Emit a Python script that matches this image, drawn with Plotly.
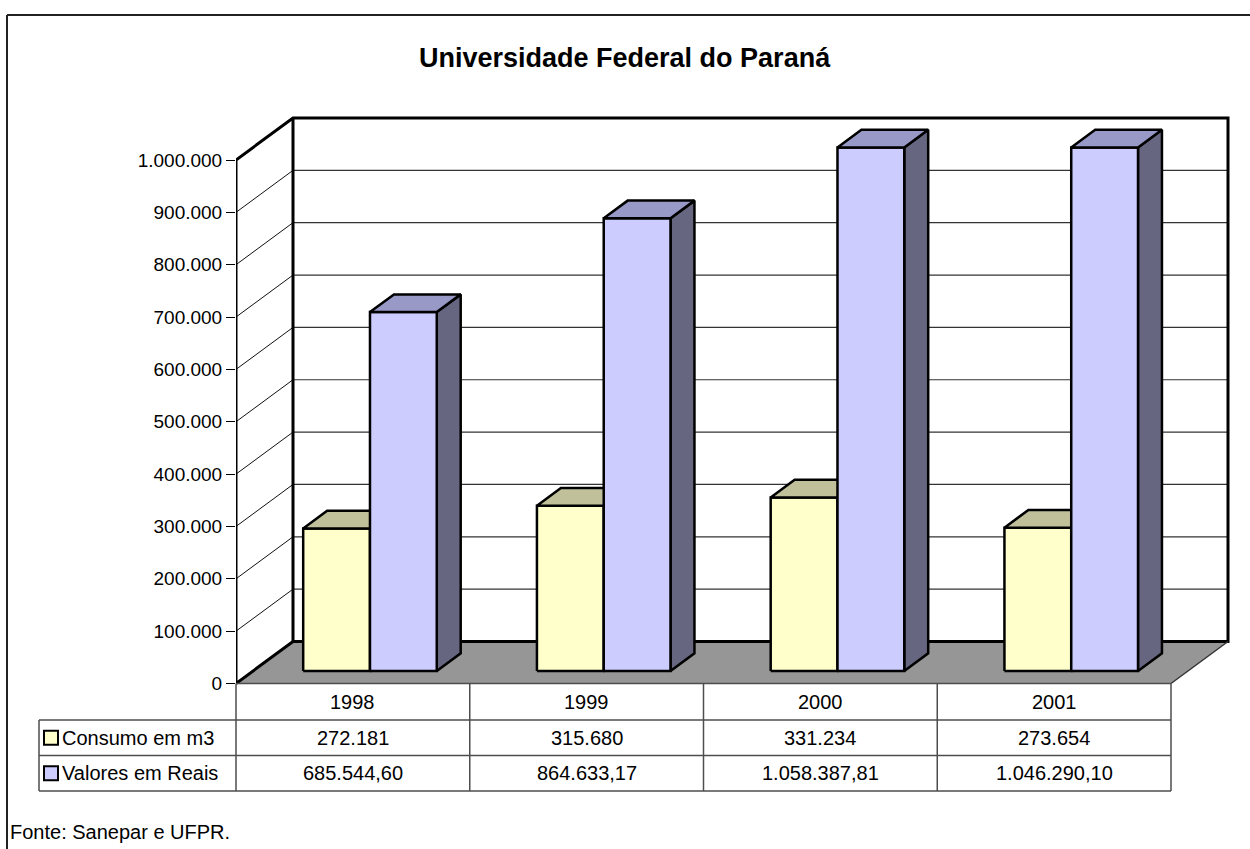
import plotly.graph_objects as go

# ---------------- data ----------------
years = ["1998", "1999", "2000", "2001"]
consumo = [272181, 315680, 331234, 273654]
valores = [685544.60, 864633.17, 1058387.81, 1046290.10]
series_names = ["Consumo em m3", "Valores em Reais"]
y_ticks = [0, 100000, 200000, 300000, 400000, 500000, 600000, 700000, 800000, 900000, 1000000]
title_text = "Universidade Federal do Paraná"
source_text = "Fonte: Sanepar e UFPR."

# ---------------- geometry / style ----------------
W, H = 1250, 849
X0_PX = 236.0          # front-left corner of the floor (px)
CAT_PX = 233.75        # width of one category (px)
ZERO_PX = 683.5        # y pixel of value 0 on the front plane
K = 523.5 / 1e6        # px per value unit
DEPTH_DX_PX, DEPTH_DY_PX = 57.0, 42.0
AXIS_MAX = y_ticks[-1]
BAR_W = 1 / 3.5        # gap width 150 %
BAR_OFF = 0.75 * BAR_W
D_FRONT, D_BACK = 0.30, 0.72
FONT = "Liberation Sans, Arial, sans-serif"
FS = 20

DX = DEPTH_DX_PX / CAT_PX
DV = DEPTH_DY_PX / K
XR = [-0.5, -0.5 + (W - X0_PX) / CAT_PX]
YR = [(ZERO_PX - H) / K, ZERO_PX / K]
NCAT = len(years)
XL, XRt = -0.5, NCAT - 0.5


def P(x, v, d):
    return x + d * DX, v + d * DV


def poly_trace(pts_list, fill, line_color="black", width=2.5):
    xs, ys = [], []
    for pts in pts_list:
        for (x, y) in pts:
            xs.append(x)
            ys.append(y)
        xs.append(pts[0][0]); ys.append(pts[0][1])
        xs.append(None); ys.append(None)
    return go.Scatter(x=xs, y=ys, mode="lines", fill="toself", fillcolor=fill,
                      line=dict(color=line_color, width=width), hoverinfo="skip",
                      showlegend=False)


def line_trace(segs, color="black", width=1.0):
    xs, ys = [], []
    for seg in segs:
        for (x, y) in seg:
            xs.append(x); ys.append(y)
        xs.append(None); ys.append(None)
    return go.Scatter(x=xs, y=ys, mode="lines", line=dict(color=color, width=width),
                      hoverinfo="skip", showlegend=False)


fig = go.Figure()

# floor
floor = [P(XL, 0, 0), P(XRt, 0, 0), P(XRt, 0, 1), P(XL, 0, 1)]
fig.add_trace(poly_trace([floor], "#969696", "rgba(0,0,0,0)", 0))

# back wall gridlines
fig.add_trace(line_trace([[P(XL, v, 1), P(XRt, v, 1)] for v in y_ticks[1:-1]], "#333333", 1.2))
# side wall gridlines
fig.add_trace(line_trace([[P(XL, v, 0), P(XL, v, 1)] for v in y_ticks[1:-1]], "#111111", 1.0))

# thick frame of walls
A, B, C = P(XL, 0, 0), P(XL, AXIS_MAX, 0), P(XL, AXIS_MAX, 1)
D, E, F = P(XRt, AXIS_MAX, 1), P(XRt, 0, 1), P(XL, 0, 1)
fig.add_trace(line_trace([[A, B, C, D, E, F, A], [F, C]], "black", 3))
fig.add_trace(line_trace([[E, P(XRt, 0, 0)]], "#333333", 1.5))

# bars
styles = [
    dict(front="#FFFFCC", top="#C0C09A", side="#80806A"),
    dict(front="#CCCCFF", top="#9999C8", side="#666680"),
]
for s, vals in enumerate([consumo, valores]):
    fronts, tops, sides = [], [], []
    for i, v in enumerate(vals):
        h = min(v, AXIS_MAX)
        x0 = i - 0.5 + BAR_OFF + s * BAR_W
        x1 = x0 + BAR_W
        fronts.append([P(x0, 0, D_FRONT), P(x1, 0, D_FRONT), P(x1, h, D_FRONT), P(x0, h, D_FRONT)])
        tops.append([P(x0, h, D_FRONT), P(x1, h, D_FRONT), P(x1, h, D_BACK), P(x0, h, D_BACK)])
        sides.append([P(x1, 0, D_FRONT), P(x1, 0, D_BACK), P(x1, h, D_BACK), P(x1, h, D_FRONT)])
    fig.add_trace(poly_trace(sides, styles[s]["side"]))
    fig.add_trace(poly_trace(fronts, styles[s]["front"]))
    fig.add_trace(poly_trace(tops, styles[s]["top"]))


# ---------------- table ----------------
def xp(x):
    return (x - XR[0]) / (XR[1] - XR[0])


def pxp(px):
    return (px - X0_PX) / (W - X0_PX)


def pyp(py):
    return 1 - py / H


ROWS = [ZERO_PX, 720.0, 755.5, 791.0]
LABEL_LEFT = 39.0
TCOL = "#4d4d4d"
shapes = []
# horizontal lines
shapes.append(dict(type="line", xref="paper", yref="paper", x0=xp(XL), x1=xp(XRt),
                   y0=pyp(ROWS[0]), y1=pyp(ROWS[0]), line=dict(color=TCOL, width=1.5)))
for r in ROWS[1:]:
    shapes.append(dict(type="line", xref="paper", yref="paper", x0=pxp(LABEL_LEFT), x1=xp(XRt),
                       y0=pyp(r), y1=pyp(r), line=dict(color=TCOL, width=1.5)))
# vertical lines
for b in range(NCAT + 1):
    xb = b - 0.5
    shapes.append(dict(type="line", xref="paper", yref="paper", x0=xp(xb), x1=xp(xb),
                       y0=pyp(ROWS[0]), y1=pyp(ROWS[-1]), line=dict(color=TCOL, width=1.5)))
shapes.append(dict(type="line", xref="paper", yref="paper", x0=pxp(LABEL_LEFT), x1=pxp(LABEL_LEFT),
                   y0=pyp(ROWS[1]), y1=pyp(ROWS[-1]), line=dict(color=TCOL, width=1.5)))

# outer frame (top + left)
shapes.append(dict(type="line", xref="paper", yref="paper", x0=pxp(7), x1=pxp(W),
                   y0=pyp(15), y1=pyp(15), line=dict(color="#222222", width=2)))
shapes.append(dict(type="line", xref="paper", yref="paper", x0=pxp(7), x1=pxp(7),
                   y0=pyp(15), y1=pyp(H), line=dict(color="#222222", width=2)))

annotations = []


def fmt_int(v):
    return f"{v:,.0f}".replace(",", ".")


def fmt_dec(v):
    return f"{v:,.2f}".replace(",", "X").replace(".", ",").replace("X", ".")


row_texts = [years, [fmt_int(v) for v in consumo], [fmt_dec(v) for v in valores]]
for r, texts in enumerate(row_texts):
    yc = pyp((ROWS[r] + ROWS[r + 1]) / 2)
    for i, t in enumerate(texts):
        annotations.append(dict(xref="paper", yref="paper", x=xp(i), y=yc, text=t,
                                showarrow=False, xanchor="center", yanchor="middle",
                                font=dict(family=FONT, size=FS, color="black")))

key_colors = [styles[0]["front"], styles[1]["front"]]
for s, name in enumerate(series_names):
    ymid = (ROWS[s + 1] + ROWS[s + 2]) / 2
    shapes.append(dict(type="rect", xref="paper", yref="paper", x0=pxp(44), x1=pxp(58),
                       y0=pyp(ymid - 7), y1=pyp(ymid + 7), fillcolor=key_colors[s],
                       line=dict(color="black", width=2)))
    annotations.append(dict(xref="paper", yref="paper", x=pxp(60), y=pyp(ymid), text=name,
                            showarrow=False, xanchor="left", yanchor="middle",
                            font=dict(family=FONT, size=FS, color="black")))

annotations.append(dict(xref="paper", yref="paper", x=pxp(625), y=pyp(58), text="<b>" + title_text + "</b>",
                        showarrow=False, xanchor="center", yanchor="middle",
                        font=dict(family=FONT, size=27, color="black")))
annotations.append(dict(xref="paper", yref="paper", x=pxp(8), y=pyp(832), text=source_text,
                        showarrow=False, xanchor="left", yanchor="middle",
                        font=dict(family=FONT, size=FS, color="black")))

fig.update_layout(
    width=W, height=H,
    margin=dict(l=X0_PX, r=0, t=0, b=0, pad=0),
    paper_bgcolor="white", plot_bgcolor="rgba(0,0,0,0)",
    showlegend=False,
    separators=",.",
    xaxis=dict(range=XR, visible=False, fixedrange=True),
    yaxis=dict(range=YR, tickvals=y_ticks, tickformat=",d", ticks="outside", ticklen=9,
               tickwidth=1.2, tickcolor="black", showgrid=False, zeroline=False, showline=False,
               tickfont=dict(family=FONT, size=19, color="black"), fixedrange=True),
    shapes=shapes,
    annotations=annotations,
)

fig.write_html("out.html", config={"displayModeBar": False},
               post_script="document.body.style.margin='0px';")
